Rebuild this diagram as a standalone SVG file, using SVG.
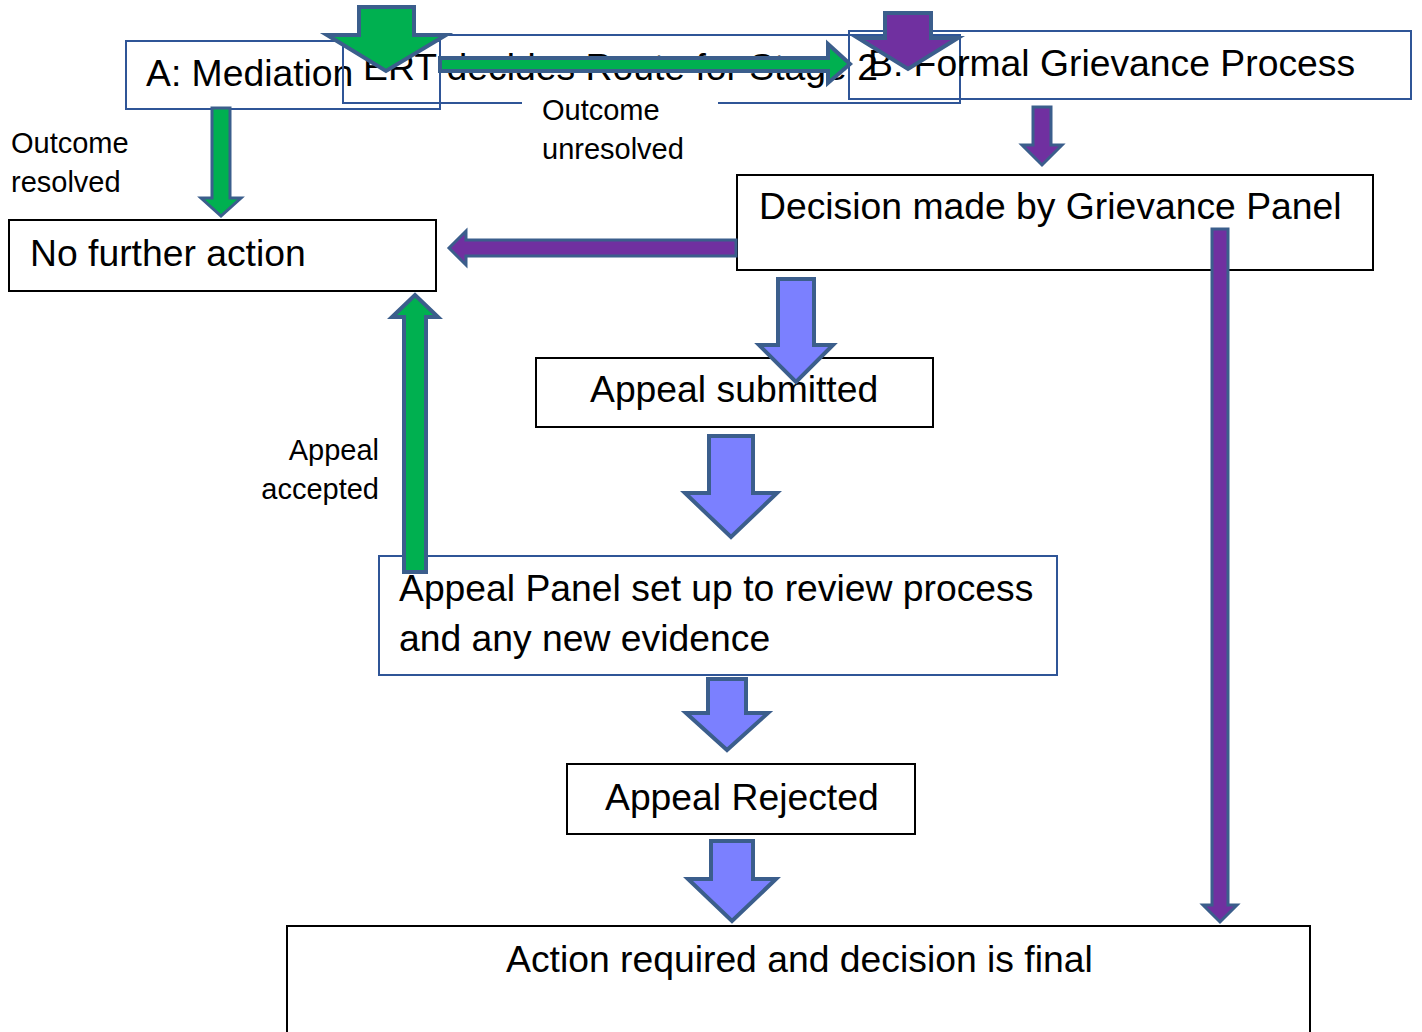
<svg xmlns="http://www.w3.org/2000/svg" width="1422" height="1032" viewBox="0 0 1422 1032">
<style>
  .t { font-family: "Liberation Sans", Arial, sans-serif; font-size: 37.3px; fill: #000; }
  .s { font-family: "Liberation Sans", Arial, sans-serif; font-size: 29px; fill: #000; }
  .bb { fill: none; stroke: #2F5597; stroke-width: 2; }
  .bk { fill: #fff; stroke: #000; stroke-width: 2; }
  .ag { fill: #00B050; stroke: #3B5E8C; stroke-width: 4; stroke-linejoin: miter; }
  .ap { fill: #7030A0; stroke: #3B5E8C; stroke-width: 4; }
  .al { fill: #7B80FF; stroke: #3B5E8C; stroke-width: 4; }
</style>
<rect width="1422" height="1032" fill="#fff"/>
<g id="nodes">
  <g id="node-mediation"><rect class="bb" x="126" y="41" width="314" height="68"/><text class="t" x="146" y="86">A: Mediation</text></g>
  <g id="node-ert"><rect class="bb" x="343" y="35" width="617" height="68"/><text class="t" x="363" y="80">ERT decides Route for Stage 2</text></g>
  <g id="node-formal"><rect class="bb" x="849" y="31" width="562" height="68"/><text class="t" x="868" y="76">B: Formal Grievance Process</text></g>
  <g id="node-decision"><rect class="bk" x="737" y="175" width="636" height="95"/><text class="t" x="759" y="219">Decision made by Grievance Panel</text></g>
  <g id="node-nofurther"><rect class="bk" x="9" y="220" width="427" height="71"/><text class="t" x="30" y="266">No further action</text></g>
  <g id="node-submitted"><rect class="bk" x="536" y="358" width="397" height="69"/><text class="t" x="590" y="402">Appeal submitted</text></g>
  <g id="node-panel"><rect class="bb" x="379" y="556" width="678" height="119" style="fill:#fff"/><text class="t" x="399" y="601">Appeal Panel set up to review process</text><text class="t" x="399" y="651">and any new evidence</text></g>
  <g id="node-rejected"><rect class="bk" x="567" y="764" width="348" height="70"/><text class="t" x="605" y="810">Appeal Rejected</text></g>
  <g id="node-action"><rect class="bk" x="287" y="926" width="1023" height="120"/><text class="t" x="506" y="972">Action required and decision is final</text></g>
</g>
<g id="labels">
  <rect x="522" y="92" width="196" height="76" fill="#fff"/>
  <text class="s" x="542" y="120">Outcome</text>
  <text class="s" x="542" y="159">unresolved</text>
  <text class="s" x="11" y="153">Outcome</text>
  <text class="s" x="11" y="192">resolved</text>
  <text class="s" x="379" y="460" text-anchor="end">Appeal</text>
  <text class="s" x="379" y="499" text-anchor="end">accepted</text>
</g>
<g id="connectors">
  <polygon class="ag" points="359,7 414,7 414,35 446,35 386,71 327,35 359,35"/>
  <polygon class="ag" points="440,58 828,58 828,44 850,64 828,83 828,71 440,71"/>
  <polygon class="ap" points="885,13 931,13 931,38 958,38 908,69 858,38 885,38"/>
  <polygon class="ap" style="stroke-width:3" points="1033,107 1051,107 1051,145 1062,145 1042,165 1022,145 1033,145"/>
  <polygon class="ag" style="stroke-width:3" points="212,108 230,108 230,198 241,198 221,216 201,198 212,198"/>
  <polygon class="ap" style="stroke-width:3" points="736,240 466,240 466,231 449,248 466,265 466,256 736,256"/>
  <polygon class="ap" style="stroke-width:3" points="1212,229 1228,229 1228,905 1237,905 1220,922 1203,905 1212,905"/>
  <polygon class="al" points="778,279 814,279 814,345 833,345 796,382 759,345 778,345"/>
  <polygon class="al" points="709,436 753,436 753,493 777,493 731,537 685,493 709,493"/>
  <polygon class="al" points="708,679 746,679 746,713 768,713 727,750 686,713 708,713"/>
  <polygon class="al" points="711,841 753,841 753,879 776,879 732,921 688,879 711,879"/>
  <polygon class="ag" points="404,572 426,572 426,317 438,317 415,295 392,317 404,317"/>
</g>
</svg>
